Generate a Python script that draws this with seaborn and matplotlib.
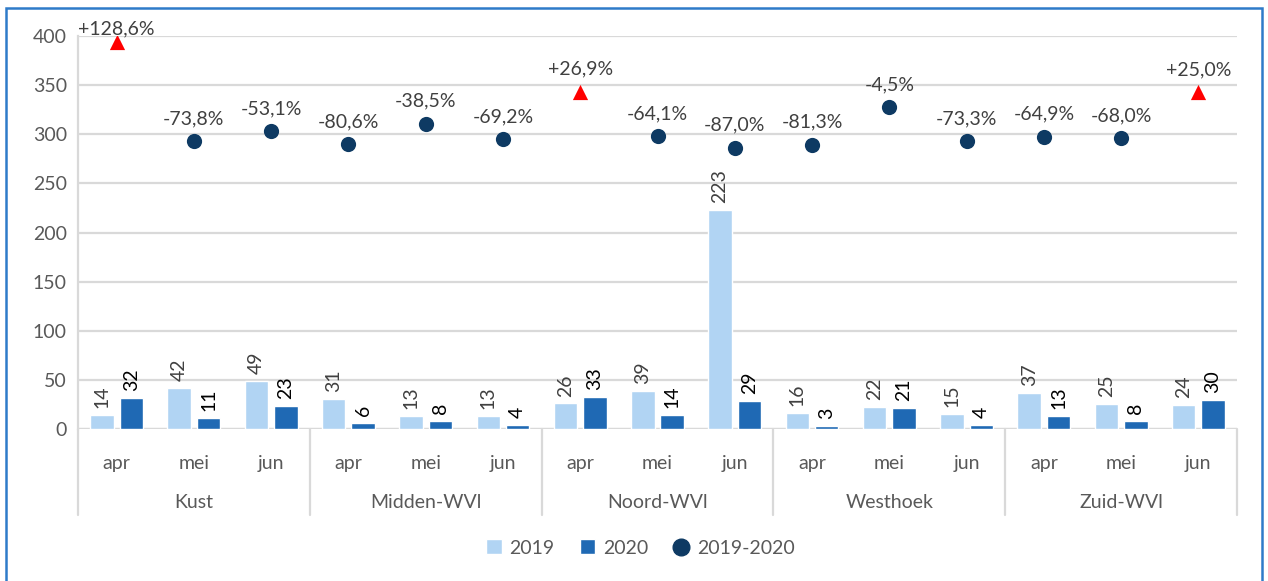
import pandas as pd
import matplotlib.pyplot as plt
import seaborn as sns
from matplotlib.lines import Line2D
from matplotlib.patches import Patch, Rectangle

regios = ["Kust", "Midden-WVl", "Noord-WVl", "Westhoek", "Zuid-WVl"]
maanden = ["apr", "mei", "jun"]
waarden_2019 = [14, 42, 49, 31, 13, 13, 26, 39, 223, 16, 22, 15, 37, 25, 24]
waarden_2020 = [32, 11, 23, 6, 8, 4, 33, 14, 29, 3, 21, 4, 13, 8, 30]
verschil_pct = [128.6, -73.8, -53.1, -80.6, -38.5, -69.2, 26.9, -64.1, -87.0,
                -81.3, -4.5, -73.3, -64.9, -68.0, 25.0]

KLEUR_2019 = "#B1D4F3"
KLEUR_2020 = "#1F69B4"
KLEUR_CIRKEL = "#0E3A63"
KLEUR_TEKST = "#404040"
KLEUR_GRID = "#D9D9D9"
FS = 14

sns.set_theme(style="white")
plt.rcParams["font.family"] = ["Lato", "DejaVu Sans"]

categorieen = [f"{r} {m}" for r in regios for m in maanden]
df = pd.DataFrame({
    "categorie": categorieen * 2,
    "jaar": ["2019"] * len(categorieen) + ["2020"] * len(categorieen),
    "aantal": waarden_2019 + waarden_2020,
})

fig = plt.figure(figsize=(12.68, 5.81), dpi=100)
ax = fig.add_axes([78 / 1268, 1 - 429 / 581, (1237 - 78) / 1268, (429 - 36) / 581])

sns.barplot(data=df, x="categorie", y="aantal", hue="jaar", order=categorieen,
            palette={"2019": KLEUR_2019, "2020": KLEUR_2020}, saturation=1,
            width=0.76, gap=0.2, legend=False, ax=ax, zorder=2)

ax.bar_label(ax.containers[0], rotation=90, padding=5, fontsize=FS, color=KLEUR_TEKST)
ax.bar_label(ax.containers[1], rotation=90, padding=5, fontsize=FS, color="black")

ax.set_ylim(0, 400)
ax.set_xlim(-0.5, len(categorieen) - 0.5)
ax.set_yticks(range(0, 401, 50))
ax.yaxis.grid(True, color=KLEUR_GRID, linewidth=1.6, zorder=0)
ax.set_axisbelow(True)
for kant in ["top", "right", "bottom"]:
    ax.spines[kant].set_visible(False)
ax.spines["left"].set_color(KLEUR_GRID)
ax.spines["left"].set_linewidth(1.6)
ax.axhline(0, color=KLEUR_GRID, linewidth=1.6, zorder=1)
ax.tick_params(axis="y", length=0, labelsize=FS, labelcolor="#595959", pad=8)
ax.tick_params(axis="x", length=0, labelsize=FS, labelcolor="#595959", pad=19)
ax.set_xticks(range(len(categorieen)))
ax.set_xticklabels(maanden * len(regios))
ax.set_xlabel("")
ax.set_ylabel("")

# regio-labels en scheidingslijnen onder de as
trans = ax.get_xaxis_transform()
onder = -(515 - 429) / 393
for i, regio in enumerate(regios):
    ax.text(i * 3 + 1, -(502 - 429) / 393, regio, transform=trans, ha="center",
            va="center", fontsize=FS, color="#595959")
for grens in range(len(regios) + 1):
    ax.add_line(Line2D([grens * 3 - 0.5] * 2, [0, onder], transform=trans,
                       color=KLEUR_GRID, linewidth=1.6, clip_on=False))

# procentuele wijziging op verborgen secundaire as
ax2 = ax.twinx()
ax2.set_ylim(-660, 140)
ax2.axis("off")
for i, pct in enumerate(verschil_pct):
    if pct >= 0:
        ax2.scatter(i, pct, marker="^", s=120, color="#FF0000", zorder=4, linewidths=0)
    else:
        ax2.scatter(i, pct, marker="o", s=120, color=KLEUR_CIRKEL, zorder=4, linewidths=0)
    tekst = f"{pct:+.1f}%".replace(".", ",")
    offset = 3 if pct > 100 else 10
    ax2.annotate(tekst, (i, pct), xytext=(0, offset), textcoords="offset points",
                 ha="center", va="bottom", fontsize=FS, color=KLEUR_TEKST)

handles = [
    Patch(facecolor=KLEUR_2019, label="2019"),
    Patch(facecolor=KLEUR_2020, label="2020"),
    Line2D([], [], marker="o", linestyle="", markersize=12, color=KLEUR_CIRKEL,
           label="2019-2020"),
]
fig.legend(handles=handles, loc="center", bbox_to_anchor=(0.505, 1 - 548 / 581),
           ncol=3, frameon=False, fontsize=FS, handlelength=0.8, handleheight=0.8,
           columnspacing=1.3, handletextpad=0.4, labelcolor="#595959")

fig.add_artist(Rectangle((6 / 1268, -0.05), (1262 - 6) / 1268, 1.05 - 8 / 581,
                         transform=fig.transFigure, fill=False,
                         edgecolor="#2E7BC9", linewidth=1.8))

fig.savefig("out.png", dpi=100)
